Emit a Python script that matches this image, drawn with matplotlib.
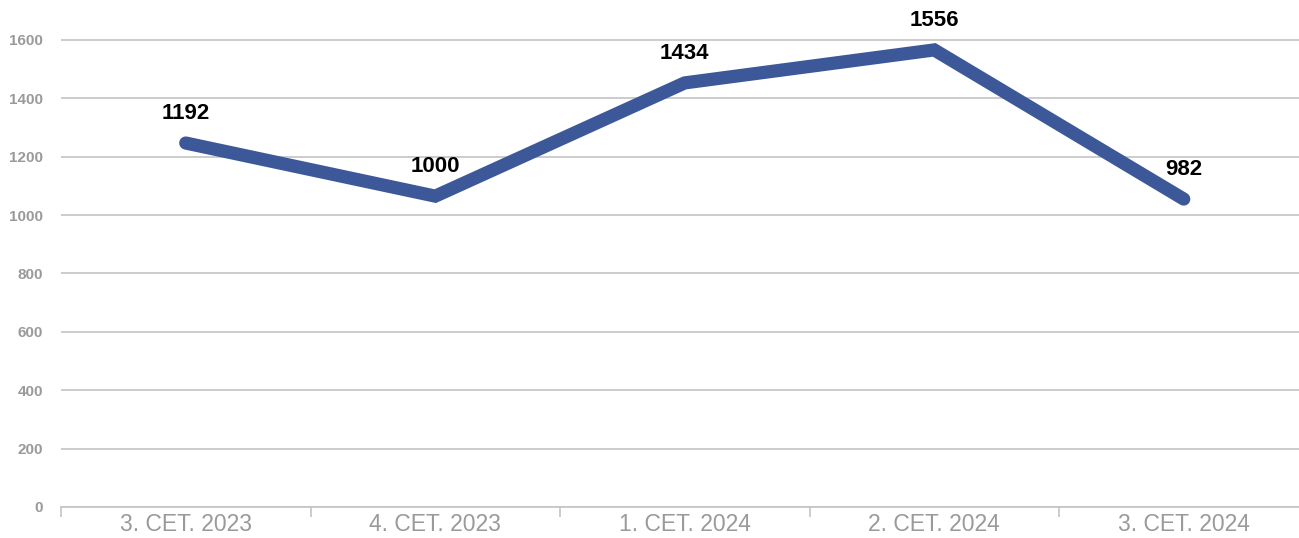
import matplotlib.pyplot as plt

plt.rcParams['font.family'] = ['Liberation Sans', 'DejaVu Sans']

# data
quarters = ["3. CET. 2023", "4. CET. 2023", "1. CET. 2024", "2. CET. 2024", "3. CET. 2024"]
values = [1247, 1065, 1453, 1566, 1055]          # line position as drawn
labels = ["1192", "1000", "1434", "1556", "982"]  # labels as printed
yticks = [0, 200, 400, 600, 800, 1000, 1200, 1400, 1600]

LINE_COLOR = "#3d5899"
GRID_COLOR = "#c4c4c4"
TEXT_GRAY = "#9a9a9a"

fig = plt.figure(figsize=(12.99, 5.38), dpi=100)
# axes: left at x=61px, bottom at y=507px, category width ~249.5px
W, H = 1299, 538
left = 61 / W
bottom = (H - 507) / H
width = 5 * 249.5 / W
ax = fig.add_axes([left, bottom, width, (507 - 10.8) / H])

x = list(range(len(quarters)))
ax.plot(x, values, color=LINE_COLOR, lw=9.5, solid_capstyle="round",
        solid_joinstyle="miter", zorder=3, clip_on=False)

for xi, v, lab in zip(x, values, labels):
    ax.annotate(lab, (xi, v), xytext=(0, 21), textcoords="offset points",
                ha="center", va="center", fontsize=16, fontweight="bold",
                color="black", zorder=4)

ax.set_xlim(-0.5, len(quarters) - 0.5)
ax.set_ylim(0, 1700)
ax.set_yticks(yticks)
ax.set_yticklabels([str(t) for t in yticks], fontsize=11, fontweight="bold",
                   color=TEXT_GRAY)
ax.grid(axis="y", color=GRID_COLOR, lw=1.2)
ax.set_axisbelow(True)

# categories between boundary ticks
ax.set_xticks([i - 0.5 for i in range(len(quarters) + 1)])
ax.set_xticklabels([])
ax.set_xticks(x, minor=True)
ax.set_xticklabels(quarters, minor=True, fontsize=16.5, color=TEXT_GRAY)
ax.tick_params(axis="x", which="major", length=7, width=1.2, color=GRID_COLOR,
               direction="out")
ax.tick_params(axis="x", which="minor", length=0, pad=4)
ax.tick_params(axis="y", length=0, pad=13)

for s in ["top", "right", "left"]:
    ax.spines[s].set_visible(False)
ax.spines["bottom"].set_color(GRID_COLOR)
ax.spines["bottom"].set_linewidth(1.2)

fig.savefig("out.png", dpi=100)
